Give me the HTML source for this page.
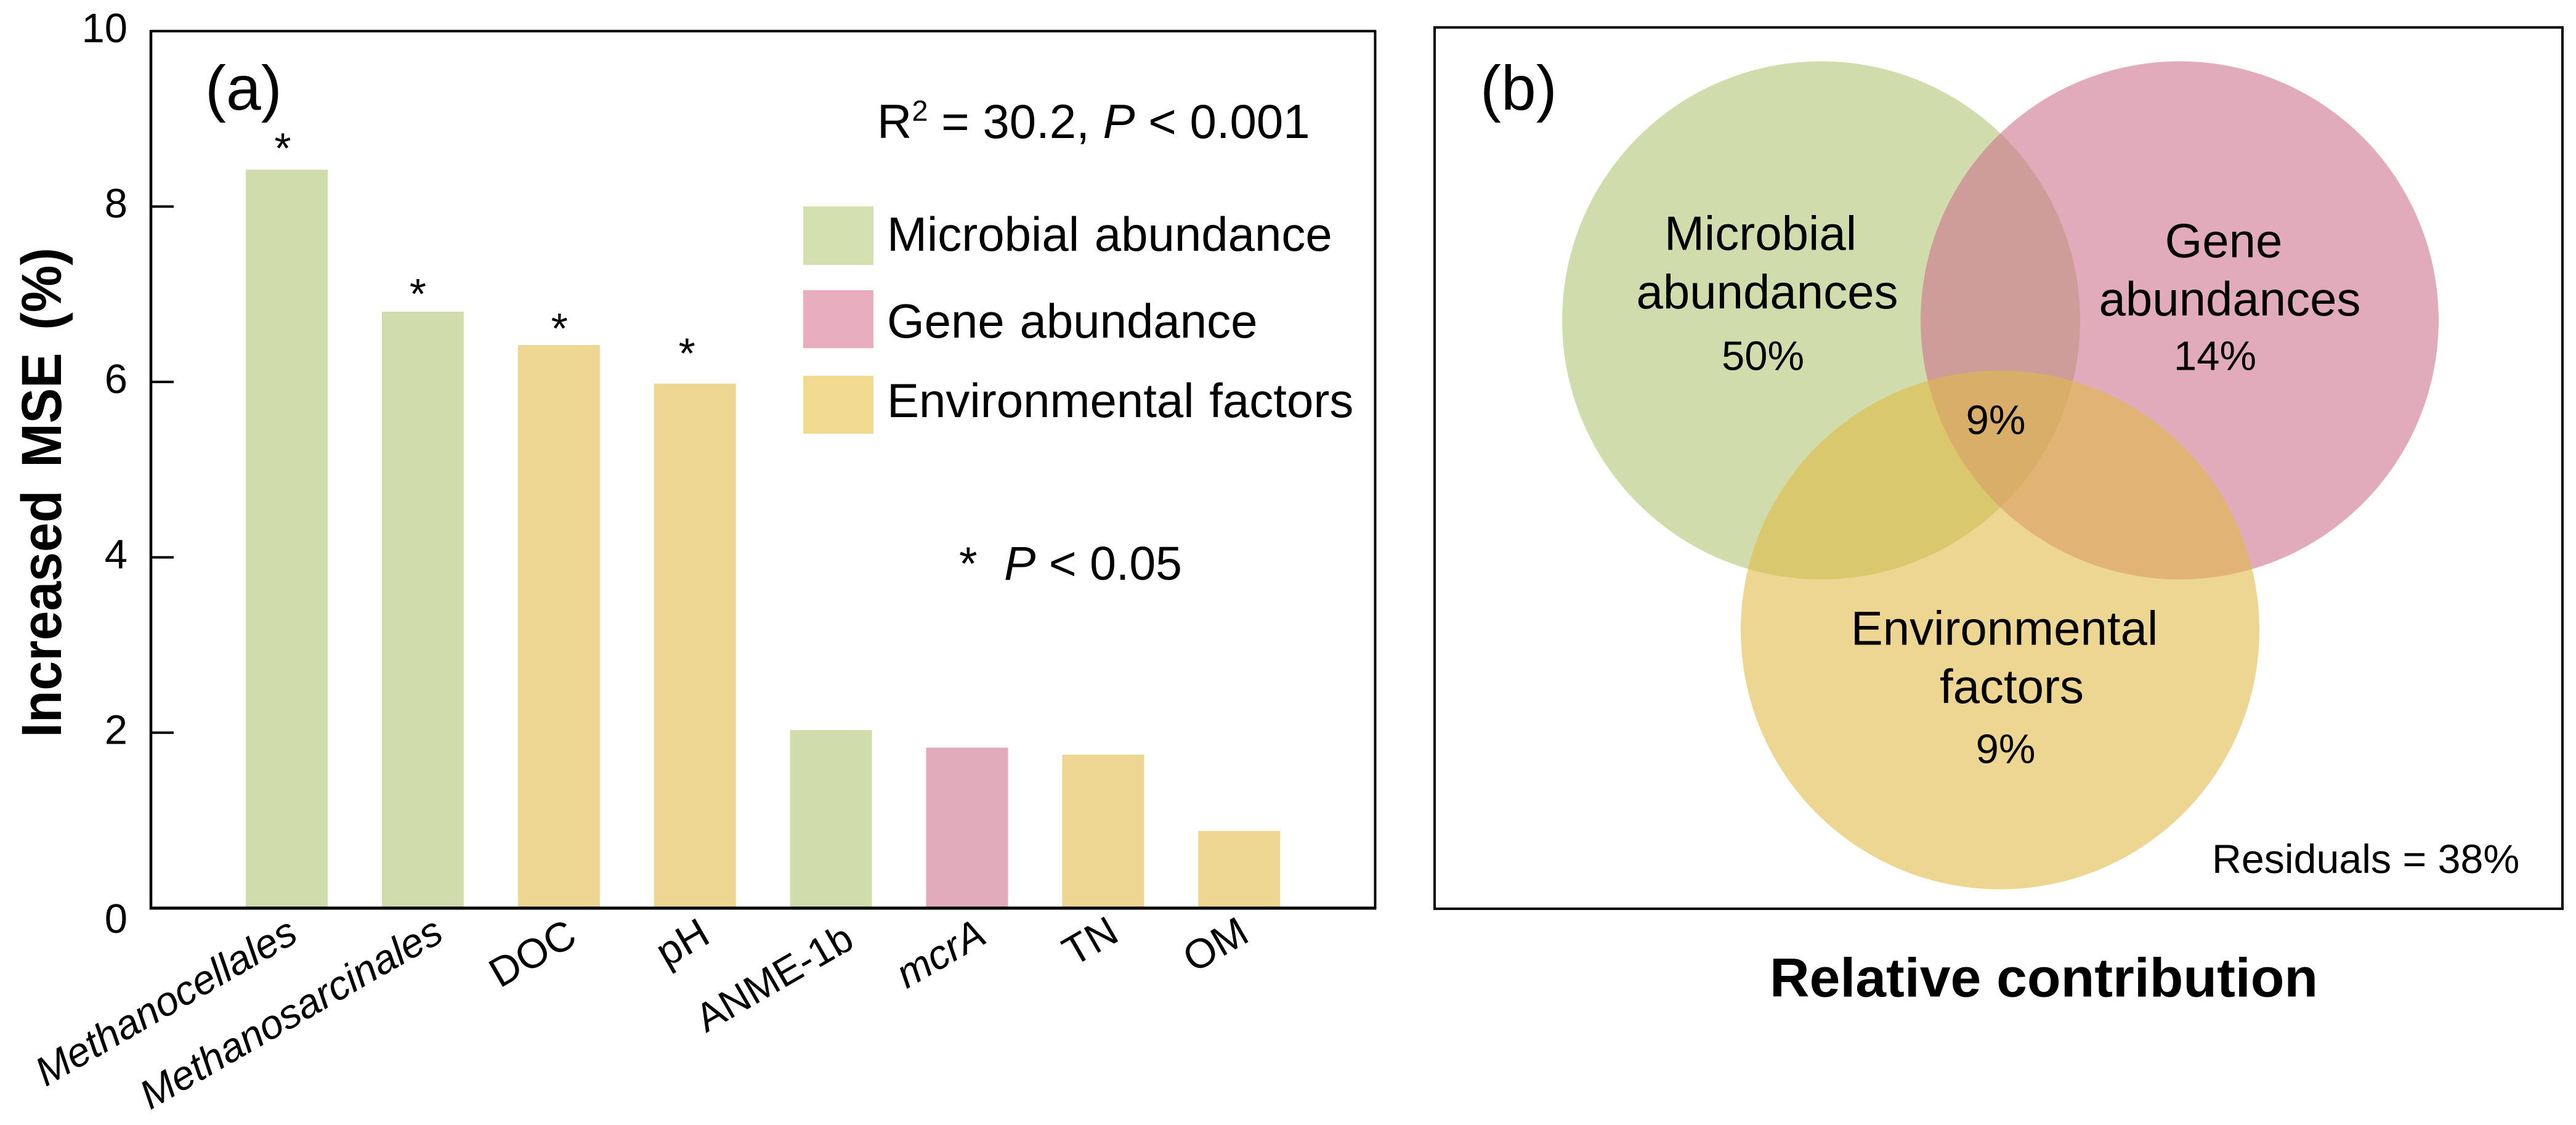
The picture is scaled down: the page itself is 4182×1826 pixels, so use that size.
<!DOCTYPE html>
<html lang="en">
<head>
<meta charset="utf-8">
<title>Increased MSE and relative contribution</title>
<style>
html,body{margin:0;padding:0;background:#fff;}
svg{display:block;}
text{font-family:"Liberation Sans",Arial,sans-serif;fill:#000;}
</style>
</head>
<body>
<svg id="figure" xmlns="http://www.w3.org/2000/svg" width="4182" height="1826" viewBox="0 0 4182 1826">
  <rect x="0" y="0" width="4182" height="1826" fill="#ffffff"/>

  <g id="panel-a">
    <g id="bars"></g>
    <g id="stars"></g>
    <line x1="243" y1="50.5" x2="2234" y2="50.5" stroke="#000" stroke-width="4"/>
    <line x1="245" y1="49" x2="245" y2="1476" stroke="#000" stroke-width="4.5"/>
    <line x1="2232.5" y1="49" x2="2232.5" y2="1476" stroke="#000" stroke-width="4"/>
    <line x1="243" y1="1474" x2="2234" y2="1474" stroke="#000" stroke-width="5"/>
    <g id="y-ticks"></g>
    <g id="x-labels"></g>
    <text transform="translate(99,1197) rotate(-90)" font-size="92" font-weight="700" word-spacing="14" textLength="795" lengthAdjust="spacingAndGlyphs">Increased MSE (%)</text>
    <text x="333" y="178" font-size="102">(a)</text>
    <text x="1424" y="224" font-size="78">R<tspan font-size="47" dy="-28">2</tspan><tspan dy="28"> = 30.2, </tspan><tspan font-style="italic">P</tspan> &lt; 0.001</text>
    <g>
      <rect x="1304" y="335" width="114" height="95" fill="#d4e0b0"/>
      <text x="1440" y="407" font-size="78" word-spacing="3">Microbial abundance</text>
      <rect x="1304" y="471" width="114" height="94" fill="#e8adbf"/>
      <text x="1440" y="548" font-size="78" word-spacing="3">Gene abundance</text>
      <rect x="1304" y="610" width="114" height="94" fill="#f2da90"/>
      <text x="1440" y="677" font-size="78" word-spacing="3">Environmental factors</text>
    </g>
    <text x="1557" y="941" font-size="76">*</text>
    <text x="1630" y="941" font-size="77"><tspan font-style="italic">P</tspan> &lt; 0.05</text>
  </g>

  <g id="panel-b">
    <rect x="2329" y="44.5" width="1831" height="1430.5" fill="none" stroke="#000" stroke-width="4"/>
    <circle cx="2956.5" cy="520" r="420.5" fill="#b1c573" fill-opacity="0.6"/>
    <circle cx="3538.5" cy="520" r="420.5" fill="#cd6e8c" fill-opacity="0.58"/>
    <circle cx="3247" cy="1022.5" r="421" fill="#e1bb48" fill-opacity="0.6"/>
    <text x="2403" y="178" font-size="102">(b)</text>
    <text x="2858" y="405.5" font-size="78" text-anchor="middle">Microbial</text>
    <text x="2869" y="500.5" font-size="78" text-anchor="middle">abundances</text>
    <text x="2862" y="600.5" font-size="67" text-anchor="middle">50%</text>
    <text x="3610" y="417.5" font-size="78" text-anchor="middle">Gene</text>
    <text x="3620" y="512" font-size="78" text-anchor="middle">abundances</text>
    <text x="3596" y="600.5" font-size="67" text-anchor="middle">14%</text>
    <text x="3240" y="704.5" font-size="67" text-anchor="middle">9%</text>
    <text x="3254" y="1046.5" font-size="78" text-anchor="middle">Environmental</text>
    <text x="3266" y="1141" font-size="78" text-anchor="middle">factors</text>
    <text x="3256" y="1238.5" font-size="67" text-anchor="middle">9%</text>
    <text x="3591" y="1417" font-size="66.3">Residuals = 38%</text>
    <text x="2873" y="1617.5" font-size="89.5" font-weight="700">Relative contribution</text>
  </g>
</svg>

<script>
const categories = ['Methanocellales', 'Methanosarcinales', 'DOC', 'pH', 'ANME-1b', 'mcrA', 'TN', 'OM'];
const importance = [8.42, 6.80, 6.42, 5.98, 2.03, 1.83, 1.75, 0.88];
const factorGroup = ['microbial', 'microbial', 'environmental', 'environmental', 'microbial', 'gene', 'environmental', 'environmental'];
const significant = [true, true, true, true, false, false, false, false];
const italicLabel = [true, true, false, false, false, true, false, false];
const yTicks = [0, 2, 4, 6, 8, 10];

function yScale(v) {
  return 1474 - (v / 10) * (1474 - 50.5);
}
function xCenter(i) {
  return 465.5 + i * 220.9;
}

function drawChart() {
  const NS = 'http://www.w3.org/2000/svg';
  const groupColor = { microbial: '#d0dcab', gene: '#e2abbc', environmental: '#edd691' };
  const barWidth = 133;
  const starShift = [-6.5, -8, 1, -13, 0, 0, 0, 0];
  const starLift = [10, 4, 2, 24, 0, 0, 0, 0];
  const labelShift = [21.5, 37, 33, 28, 41, 35, 29, 19.5];
  const labelDrop = [52, 51, 56, 54, 62, 54.5, 51, 52];
  const labelSize = [66, 66, 67, 67, 65, 66, 67, 67];
  const bars = document.getElementById('bars');
  const stars = document.getElementById('stars');
  const xLabels = document.getElementById('x-labels');
  const ticks = document.getElementById('y-ticks');

  categories.forEach(function (name, i) {
    const bar = document.createElementNS(NS, 'rect');
    
    
    bar.setAttribute('x', xCenter(i) - barWidth / 2);
    bar.setAttribute('y', yScale(importance[i]));
    bar.setAttribute('width', barWidth);
    bar.setAttribute('height', yScale(0) - yScale(importance[i]));
    bar.setAttribute('fill', groupColor[factorGroup[i]]);
    bars.appendChild(bar);

    if (significant[i]) {
      const star = document.createElementNS(NS, 'text');
      
      
      star.setAttribute('x', xCenter(i) + starShift[i]);
      star.setAttribute('y', yScale(importance[i]) - 1 - starLift[i]);
      star.setAttribute('font-size', '70');
      star.setAttribute('text-anchor', 'middle');
      star.textContent = '*';
      stars.appendChild(star);
    }

    const label = document.createElementNS(NS, 'text');
    
    
    label.setAttribute('transform', 'translate(' + (xCenter(i) + labelShift[i]) + ',' + (1474 + labelDrop[i]) + ') rotate(-30)');
    label.setAttribute('font-size', labelSize[i]);
    label.setAttribute('text-anchor', 'end');
    if (italicLabel[i]) {
      label.setAttribute('font-style', 'italic');
    }
    label.textContent = name;
    xLabels.appendChild(label);
  });

  yTicks.forEach(function (t) {
    const y = yScale(t);
    if (t > 0 && t < 10) {
      const mark = document.createElementNS(NS, 'line');
      
      
      mark.setAttribute('x1', 245);
      mark.setAttribute('x2', 282);
      mark.setAttribute('y1', y);
      mark.setAttribute('y2', y);
      mark.setAttribute('stroke', '#000');
      mark.setAttribute('stroke-width', '4');
      ticks.appendChild(mark);
    }
    const tickLabel = document.createElementNS(NS, 'text');
    
    
    tickLabel.setAttribute('x', 207);
    tickLabel.setAttribute('y', y + (t === 0 ? 40 : 18));
    tickLabel.setAttribute('font-size', '67');
    tickLabel.setAttribute('text-anchor', 'end');
    tickLabel.textContent = String(t);
    ticks.appendChild(tickLabel);
  });
}
drawChart();
</script>
</body>
</html>
